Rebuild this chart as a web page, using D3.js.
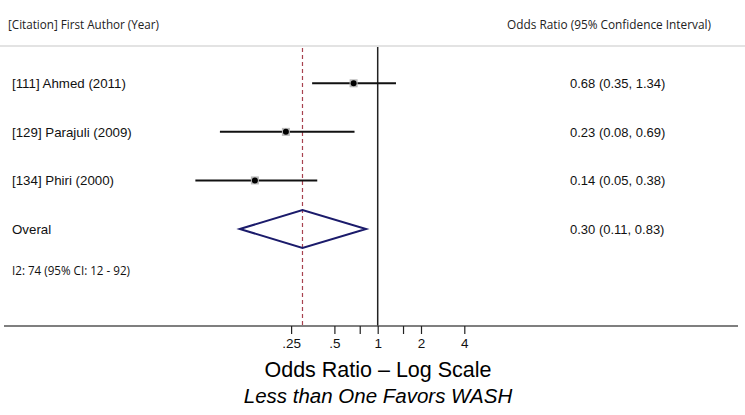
<!DOCTYPE html>
<html><head><meta charset="utf-8">
<script src="https://cdn.jsdelivr.net/npm/d3@7"></script>
<style>
html,body{margin:0;padding:0;background:#fff;}
svg{display:block;}
</style></head>
<body>
<svg id="chart" width="745" height="415"></svg>
<script>
const studies = ["[111] Ahmed (2011)", "[129] Parajuli (2009)", "[134] Phiri (2000)"];
const oddsRatio = [0.68, 0.23, 0.14];
const ciLower = [0.35, 0.08, 0.054];
const ciUpper = [1.34, 0.69, 0.38];
const ciLabels = ["0.68 (0.35, 1.34)", "0.23 (0.08, 0.69)", "0.14 (0.05, 0.38)"];
const overallLabel = "Overal";
const overallOR = 0.30, overallLower = 0.11, overallUpper = 0.83;
const overallText = "0.30 (0.11, 0.83)";
const heterogeneity = "I2: 74 (95% CI: 12 - 92)";
const tickValues = [0.25, 0.5, 0.75, 1, 1.5, 2, 4];
const tickLabels = [".25", ".5", "", "1", "", "2", "4"];

const svg = d3.select("#chart");
const x = d3.scaleLog().base(2).domain([1/32, 32]).range([161.2, 594.2]);
const y = d3.scalePoint().domain([0,1,2,3]).range([83.3, 229]);
const axisY = 326;

const sans = "'Liberation Sans', Arial, Helvetica, sans-serif";
const narrow = "'Open Sans', sans-serif";

// headers
svg.append("text").attr("x", 8).attr("y", 28.5).attr("font-family", narrow)
  .attr("font-size", 12.5).attr("fill", "#222")
  .attr("textLength", 151).attr("lengthAdjust", "spacingAndGlyphs")
  .text("[Citation] First Author (Year)");
svg.append("text").attr("x", 507).attr("y", 28.5).attr("font-family", narrow)
  .attr("font-size", 12.5).attr("fill", "#222")
  .attr("textLength", 204).attr("lengthAdjust", "spacingAndGlyphs")
  .text("Odds Ratio (95% Confidence Interval)");
svg.append("line").attr("x1", 0).attr("x2", 745).attr("y1", 46).attr("y2", 46)
  .attr("stroke", "#c8c8c8").attr("stroke-width", 1.2);

// reference lines
svg.append("line").attr("x1", x(1)).attr("x2", x(1)).attr("y1", 47).attr("y2", axisY)
  .attr("stroke", "#222").attr("stroke-width", 1.5);
svg.append("line").attr("x1", x(overallOR)).attr("x2", x(overallOR)).attr("y1", 48).attr("y2", axisY)
  .attr("stroke", "#a8424f").attr("stroke-width", 1.2).attr("stroke-dasharray", "4,3");

// study rows
studies.forEach((s, i) => {
  svg.append("text").attr("x", 12).attr("y", y(i) + 5).attr("font-family", sans)
    .attr("font-size", 13.3).attr("fill", "#111").text(s);
  svg.append("text").attr("x", 570).attr("y", y(i) + 5).attr("font-family", sans)
    .attr("font-size", 13).attr("fill", "#111").text(ciLabels[i]);
  svg.append("line").attr("x1", x(ciLower[i])).attr("x2", x(ciUpper[i]))
    .attr("y1", y(i)).attr("y2", y(i)).attr("stroke", "#111").attr("stroke-width", 2);
  svg.append("rect").attr("x", x(oddsRatio[i]) - 4).attr("y", y(i) - 4).attr("width", 8).attr("height", 8)
    .attr("fill", "#b8b8b8");
  svg.append("circle").attr("cx", x(oddsRatio[i])).attr("cy", y(i)).attr("r", 3).attr("fill", "#000");
});

// overall
svg.append("text").attr("x", 12).attr("y", y(3) + 5).attr("font-family", sans)
  .attr("font-size", 13.3).attr("fill", "#111").text(overallLabel);
svg.append("text").attr("x", 570).attr("y", y(3) + 5).attr("font-family", sans)
  .attr("font-size", 13).attr("fill", "#111").text(overallText);
const dh = 19;
svg.append("path")
  .attr("d", `M${x(overallLower)},${y(3)} L${x(overallOR)},${y(3)-dh} L${x(overallUpper)},${y(3)} L${x(overallOR)},${y(3)+dh} Z`)
  .attr("fill", "none").attr("stroke", "#1b1b6b").attr("stroke-width", 2);

svg.append("text").attr("x", 12).attr("y", 274.5).attr("font-family", narrow)
  .attr("font-size", 12.5).attr("fill", "#111")
  .attr("textLength", 118).attr("lengthAdjust", "spacingAndGlyphs")
  .text(heterogeneity);

// axis
svg.append("line").attr("x1", 4).attr("x2", 738).attr("y1", axisY).attr("y2", axisY)
  .attr("stroke", "#555").attr("stroke-width", 1.6);
const axis = d3.axisBottom(x).tickValues(tickValues).tickSize(8).tickPadding(4)
  .tickFormat((d, i) => tickLabels[i]);
const g = svg.append("g").attr("transform", `translate(0,${axisY})`).call(axis);
g.select(".domain").remove();
g.selectAll(".tick line").attr("stroke", "#222").attr("stroke-width", 1.2);
g.selectAll(".tick text").attr("font-family", sans).attr("font-size", 13.5).attr("fill", "#111");

svg.append("text").attr("x", 378).attr("y", 377).attr("text-anchor", "middle")
  .attr("font-family", sans).attr("font-size", 21.5).attr("fill", "#000").text("Odds Ratio \u2013 Log Scale");
svg.append("text").attr("x", 378).attr("y", 403).attr("text-anchor", "middle")
  .attr("font-family", sans).attr("font-style", "italic").attr("font-size", 20.5).attr("fill", "#000")
  .text("Less than One Favors WASH");
</script>
</body></html>
